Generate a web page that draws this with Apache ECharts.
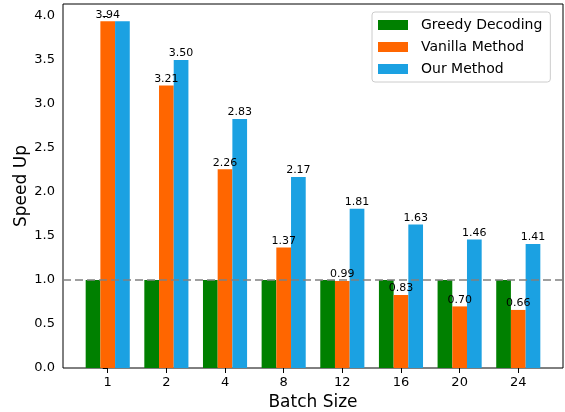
<!DOCTYPE html>
<html>
<head>
<meta charset="utf-8">
<script src="https://cdn.jsdelivr.net/npm/echarts@6/dist/echarts.min.js"></script>
<style>
  html, body { margin: 0; padding: 0; background: #fff; }
  #chart { width: 565px; height: 412px; }
</style>
</head>
<body>
<div id="chart"></div>
<script>
// batch sizes and speedups
const batchSizes = ["1", "2", "4", "8", "12", "16", "20", "24"];
const greedy = [1, 1, 1, 1, 1, 1, 1, 1];
const vanilla = [3.94, 3.21, 2.26, 1.37, 0.99, 0.83, 0.70, 0.66];
const ours = [3.94, 3.50, 2.83, 2.17, 1.81, 1.63, 1.46, 1.41];
const yTicks = [0, 0.5, 1, 1.5, 2, 2.5, 3, 3.5, 4];

const font = "DejaVu Sans";
const idx = batchSizes.map((_, i) => i);

function pairs(vals, hideFirst) {
  return vals.map((v, i) => {
    const item = { value: [i, v] };
    if (hideFirst && i === 0) item.label = { show: false };
    return item;
  });
}

const label = {
  show: true,
  position: "top",
  distance: 1,
  fontFamily: font,
  fontSize: 11,
  color: "#000",
  formatter: p => p.value[1].toFixed(2)
};

const chart = echarts.init(document.getElementById("chart"));
chart.setOption({
  animation: false,
  textStyle: { fontFamily: font },
  grid: {
    left: 63, top: 4, right: 2, bottom: 44,
    outerBoundsMode: "none",
    show: true, borderColor: "#000", borderWidth: 1
  },
  legend: {
    orient: "vertical",
    left: 372, top: 12,
    padding: [6, 8, 6, 6],
    itemWidth: 30, itemHeight: 10, itemGap: 8,
    borderColor: "#cccccc", borderWidth: 1, borderRadius: 3,
    icon: "rect",
    textStyle: { fontFamily: font, fontSize: 14, color: "#000", padding: [0, 0, 0, 8] },
    data: ["Greedy Decoding", "Vanilla Method", "Our Method"]
  },
  xAxis: {
    type: "value",
    min: -0.7625, max: 7.7625,
    name: "Batch Size",
    nameLocation: "middle",
    nameGap: 26,
    nameMoveOverlap: false,
    nameTextStyle: { fontFamily: font, fontSize: 17, color: "#000" },
    axisLine: { show: false },
    splitLine: { show: false },
    axisTick: { show: true, length: 5, customValues: idx, lineStyle: { color: "#000" } },
    axisLabel: {
      customValues: idx,
      margin: 8,
      fontFamily: font, fontSize: 13, color: "#000",
      formatter: v => batchSizes[Math.round(v)]
    }
  },
  yAxis: {
    type: "value",
    min: 0, max: 4.137,
    name: "Speed Up",
    nameLocation: "middle",
    nameGap: 33,
    nameMoveOverlap: false,
    nameTextStyle: { fontFamily: font, fontSize: 17, color: "#000" },
    axisLine: { show: false },
    splitLine: { show: false },
    axisTick: { show: true, length: 5, customValues: yTicks, lineStyle: { color: "#000" } },
    axisLabel: {
      customValues: yTicks,
      margin: 8,
      fontFamily: font, fontSize: 13, color: "#000",
      formatter: v => v.toFixed(1)
    }
  },
  series: [
    {
      name: "Greedy Decoding", type: "bar",
      barWidth: 14.7, barGap: "0%",
      itemStyle: { color: "#008000" },
      data: pairs(greedy, false),
      markLine: {
        silent: true, symbol: "none",
        label: { show: false },
        lineStyle: { color: "#808080", type: [8, 4], width: 1.5 },
        data: [{ yAxis: 1 }]
      }
    },
    {
      name: "Vanilla Method", type: "bar",
      barWidth: 14.7, barGap: "0%",
      itemStyle: { color: "#FF6600" },
      label: label,
      data: pairs(vanilla, false)
    },
    {
      name: "Our Method", type: "bar",
      barWidth: 14.7, barGap: "0%",
      itemStyle: { color: "#1BA1E2" },
      label: label,
      data: pairs(ours, true)
    }
  ]
});
</script>
</body>
</html>
